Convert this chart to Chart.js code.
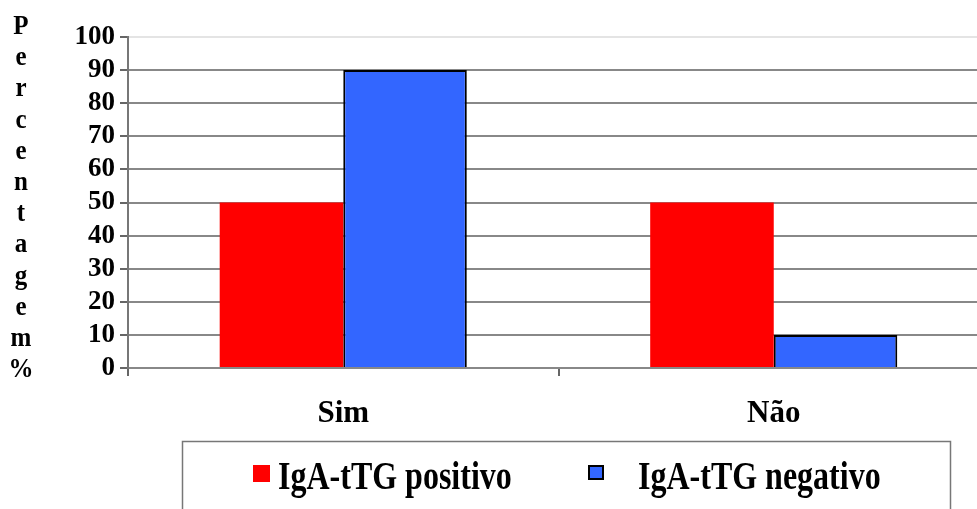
<!DOCTYPE html>
<html>
<head>
<meta charset="utf-8">
<script src="https://cdn.jsdelivr.net/npm/chart.js@4"></script>
<style>
  html, body { margin: 0; padding: 0; background: #fff; overflow: hidden; }
  #wrap { width: 977px; height: 509px; overflow: hidden; }
</style>
</head>
<body>
<div id="wrap"><canvas id="grafico" width="990" height="509"></canvas></div>
<script>
const categorias = ["Sim", "Não"];
const positivo = [50, 50];
const negativo = [90, 10];
const rotulos = ["IgA-tTG positivo", "IgA-tTG negativo"];
const tituloY = "Percentagem%";

const serif = "'Liberation Serif', 'Times New Roman', serif";

// vertical axis title, one letter per line
const tituloVertical = {
  id: "tituloVertical",
  afterDraw(chart) {
    const ctx = chart.ctx;
    ctx.save();
    ctx.fillStyle = "#000";
    ctx.font = "bold 25px " + serif;
    ctx.textAlign = "center";
    ctx.textBaseline = "alphabetic";
    const letras = Array.from(tituloY);
    letras.forEach((l, i) => {
      ctx.save();
      ctx.translate(21, 34 + i * 31.2);
      ctx.scale(1, 1.1);
      ctx.fillText(l, 0, 0);
      ctx.restore();
    });
    ctx.restore();
  }
};

// boxed legend under the axis
const legendaCaixa = {
  id: "legendaCaixa",
  afterDraw(chart) {
    const ctx = chart.ctx;
    const ds = chart.data.datasets;
    ctx.save();
    ctx.strokeStyle = "#777";
    ctx.lineWidth = 1.5;
    ctx.strokeRect(182.5, 441.5, 768, 120);

    const itens = [
      { box: 253, texto: 278 },
      { box: 589, texto: 638 }
    ];
    ds.forEach((d, i) => {
      const it = itens[i];
      ctx.fillStyle = d.backgroundColor;
      if (d.borderWidth) {
        ctx.fillRect(it.box, 466, 14, 13);
        ctx.strokeStyle = "#000";
        ctx.lineWidth = 2;
        ctx.strokeRect(it.box, 466, 14, 13);
      } else {
        ctx.fillRect(it.box, 465, 17, 17);
      }
      ctx.save();
      ctx.translate(it.texto, 489);
      ctx.scale(1, 1.22);
      ctx.fillStyle = "#000";
      ctx.font = "bold 32px " + serif;
      ctx.textBaseline = "alphabetic";
      ctx.fillText(d.label, 0, 0);
      ctx.restore();
    });
    ctx.restore();
  }
};

new Chart(document.getElementById("grafico"), {
  type: "bar",
  data: {
    labels: categorias,
    datasets: [
      {
        label: rotulos[0],
        data: positivo,
        backgroundColor: "#ff0000",
        borderWidth: 0,
        barPercentage: 1,
        categoryPercentage: 0.574
      },
      {
        label: rotulos[1],
        data: negativo,
        backgroundColor: "#3366ff",
        borderColor: "#000",
        borderWidth: 2,
        barPercentage: 1,
        categoryPercentage: 0.574
      }
    ]
  },
  options: {
    responsive: false,
    animation: false,
    devicePixelRatio: 1,
    layout: { padding: { top: 37, left: 0, right: 1, bottom: 0 } },
    plugins: {
      legend: { display: false },
      tooltip: { enabled: false }
    },
    scales: {
      x: {
        afterFit(scale) { scale.height = 141; },
        grid: {
          offset: true,
          drawOnChartArea: false,
          drawTicks: true,
          tickLength: 8,
          color: "#666",
          lineWidth: 2
        },
        border: { display: true, color: "#888", width: 2 },
        ticks: {
          color: "#000",
          padding: 19,
          font: { family: serif, size: 31, weight: "bold" }
        }
      },
      y: {
        min: 0,
        max: 100,
        afterFit(scale) { scale.width = 128; },
        grid: {
          color: (c) => (c.tick && c.tick.value === 100 ? "#e4e4e4" : "#888"),
          lineWidth: 2,
          tickLength: 8,
          tickColor: "#666"
        },
        border: { display: true, color: "#777", width: 2 },
        ticks: {
          stepSize: 10,
          autoSkip: false,
          color: "#000",
          padding: 5,
          font: { family: serif, size: 27, weight: "bold" }
        }
      }
    }
  },
  plugins: [tituloVertical, legendaCaixa]
});
</script>
</body>
</html>
